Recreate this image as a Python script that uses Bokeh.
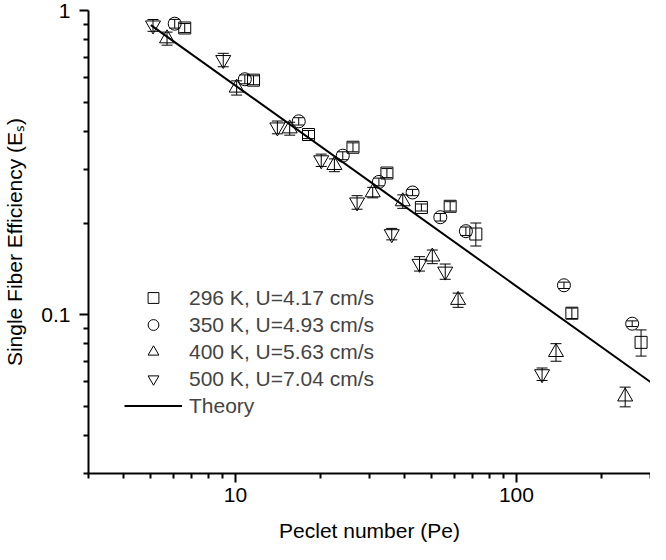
from bokeh.plotting import figure
from bokeh.models import (Range1d, FixedTicker, CustomJSTickFormatter, Whisker, TeeHead,
                          ColumnDataSource, Legend, LegendItem)
from bokeh.embed import file_html
from bokeh.resources import INLINE

# ---- data ----
pe_296 = [6.60, 11.6, 18.2, 26.2, 34.6, 45.9, 58.1, 71.7, 157.5, 277.7]
e_296 = [0.876, 0.590, 0.391, 0.355, 0.292, 0.225, 0.227, 0.184, 0.101, 0.081]
err_296 = [0.03, 0.02, 0.012, 0.012, 0.010, 0.006, 0.008, 0.016, 0.004, 0.008]

pe_350 = [6.08, 10.8, 16.8, 24.1, 32.4, 42.7, 53.6, 66.1, 147.6, 258.2]
e_350 = [0.905, 0.594, 0.432, 0.333, 0.273, 0.252, 0.209, 0.188, 0.1248, 0.0933]
err_350 = [0.03, 0.02, 0.012, 0.010, 0.008, 0.006, 0.006, 0.006, 0.003, 0.002]

pe_400 = [5.71, 10.1, 15.6, 22.5, 30.8, 39.4, 50.2, 62.0, 138.3, 243.8]
e_400 = [0.809, 0.557, 0.409, 0.310, 0.252, 0.2355, 0.155, 0.1116, 0.0752, 0.0537]
err_400 = [0.04, 0.03, 0.02, 0.015, 0.010, 0.012, 0.008, 0.006, 0.005, 0.004]

pe_500 = [5.09, 9.05, 14.1, 20.2, 27.1, 36.0, 45.2, 55.8, 123.4]
e_500 = [0.894, 0.688, 0.413, 0.322, 0.234, 0.184, 0.147, 0.1386, 0.0637]
err_500 = [0.04, 0.035, 0.02, 0.015, 0.012, 0.008, 0.008, 0.008, 0.003]

theory_pe = [5, 300]
theory_e = [0.895, 0.060]

labels = ["296 K, U=4.17 cm/s", "350 K, U=4.93 cm/s", "400 K, U=5.63 cm/s",
          "500 K, U=7.04 cm/s", "Theory"]
x_title = "Peclet number (Pe)"
y_title = "Single Fiber Efficiency (E\u209b)"

x_major = [10, 100]
x_minor = [3, 4, 5, 6, 7, 8, 9, 20, 30, 40, 50, 60, 70, 80, 90, 200, 300]
y_major = [0.1, 1]
y_minor = [0.03, 0.04, 0.05, 0.06, 0.07, 0.08, 0.09, 0.2, 0.3, 0.4, 0.5, 0.6, 0.7, 0.8, 0.9]

FONT = "Liberation Sans"

p = figure(width=650, height=544, x_axis_type="log", y_axis_type="log",
           x_range=Range1d(3, 300), y_range=Range1d(0.03, 1),
           output_backend="svg", toolbar_location=None,
           min_border_left=88, min_border_top=10, min_border_right=0, min_border_bottom=65)
p.outline_line_color = None
p.grid.visible = False

fmt = CustomJSTickFormatter(code="return tick.toString();")
p.xaxis.ticker = FixedTicker(ticks=x_major, minor_ticks=x_minor)
p.yaxis.ticker = FixedTicker(ticks=y_major, minor_ticks=y_minor)
for ax in (p.xaxis[0], p.yaxis[0]):
    ax.formatter = fmt
    ax.axis_line_width = 2
    ax.major_tick_line_width = 2
    ax.minor_tick_line_width = 2
    ax.major_tick_in = 0
    ax.major_tick_out = 9
    ax.minor_tick_in = 0
    ax.minor_tick_out = 5
    ax.major_label_text_font = FONT
    ax.major_label_text_font_size = "21px"
    ax.major_label_text_color = "black"
    ax.axis_label_text_font = FONT
    ax.axis_label_text_font_size = "21px"
    ax.axis_label_text_font_style = "normal"
    ax.axis_label_text_color = "black"
p.xaxis.major_label_standoff = 5
p.yaxis.major_label_standoff = 9
p.xaxis.axis_label = x_title
p.xaxis.axis_label_standoff = 14
p.yaxis.axis_label = y_title
p.yaxis.axis_label_standoff = 12

series = [
    (pe_296, e_296, err_296, "square", 12),
    (pe_350, e_350, err_350, "circle", 13),
    (pe_400, e_400, err_400, "triangle", 15),
    (pe_500, e_500, err_500, "inverted_triangle", 15),
]

renderers = []
for pe, e, err, marker, size in series:
    src = ColumnDataSource(dict(x=pe, y=e,
                                upper=[a + b for a, b in zip(e, err)],
                                lower=[a - b for a, b in zip(e, err)]))
    w = Whisker(base="x", upper="upper", lower="lower", source=src, dimension="height",
                line_color="black", line_width=1,
                upper_head=TeeHead(size=11, line_color="black", line_width=1),
                lower_head=TeeHead(size=11, line_color="black", line_width=1))
    p.add_layout(w)
    r = p.scatter("x", "y", source=src, marker=marker, size=size, fill_color=None,
                  line_color="black", line_width=1)
    renderers.append(r)

rt = p.line(theory_pe, theory_e, line_color="black", line_width=2)
renderers.append(rt)

legend = Legend(items=[LegendItem(label=l, renderers=[r]) for l, r in zip(labels, renderers)],
                location=(36, 54), border_line_color=None, background_fill_alpha=0,
                label_text_font=FONT, label_text_font_size="21px",
                glyph_width=58, glyph_height=27, label_height=27, label_standoff=7,
                spacing=0, padding=0, margin=0)
p.add_layout(legend)

open("out.html", "w").write(file_html(p, INLINE))
